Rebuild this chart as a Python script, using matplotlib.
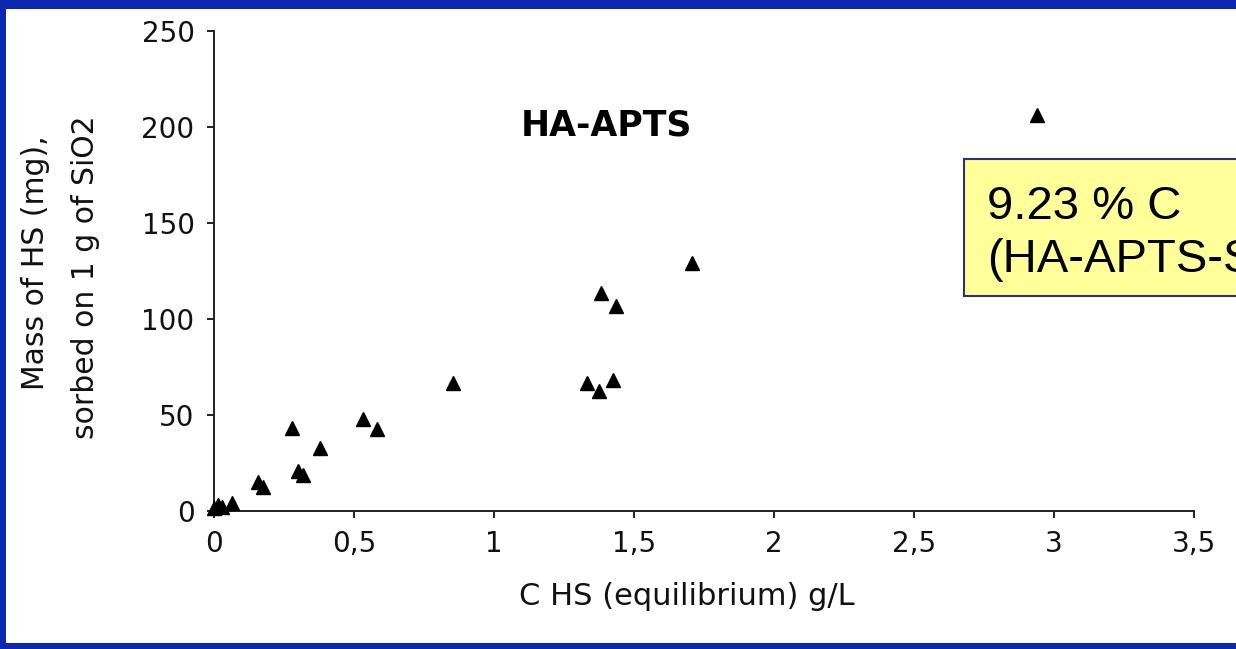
import matplotlib
matplotlib.use("Agg")
import matplotlib.pyplot as plt
from matplotlib.patches import Rectangle

# Sorption data: equilibrium concentration (g/L) vs sorbed mass (mg per g SiO2)
c_eq = [0.00, 0.015, 0.03, 0.065, 0.158, 0.176, 0.277, 0.301, 0.319, 0.379,
        0.531, 0.583, 0.852, 1.333, 1.375, 1.426, 1.381, 1.435, 1.706, 2.94]
mass_sorbed = [1.5, 3.0, 2.0, 4.0, 15.3, 12.7, 43.0, 21.0, 18.7, 33.0,
               47.8, 42.7, 66.5, 66.8, 62.7, 68.2, 113.7, 106.8, 129.3, 206.0]

x_ticks = [0, 0.5, 1, 1.5, 2, 2.5, 3, 3.5]
x_tick_labels = ["0", "0,5", "1", "1,5", "2", "2,5", "3", "3,5"]
y_ticks = [0, 50, 100, 150, 200, 250]
y_tick_labels = ["0", "50", "100", "150", "200", "250"]

W, H = 1236, 649
fig = plt.figure(figsize=(W / 100, H / 100), dpi=100)
fig.patch.set_facecolor("#0a28b0")

# white slide area inside the blue frame
fig.add_artist(Rectangle((6 / W, 6 / H), 1 - 6 / W, 1 - 15 / H,
                         transform=fig.transFigure, facecolor="white",
                         edgecolor="none", zorder=0))

ax = fig.add_axes([214 / W, 1 - 511 / H, (1194 - 214) / W, (511 - 31) / H])
ax.set_facecolor("white")
ax.patch.set_alpha(0)

ax.plot(c_eq, mass_sorbed, linestyle="none", marker="^", markersize=9.5,
        color="black", clip_on=False, zorder=3)

ax.set_xlim(0, 3.5)
ax.set_ylim(0, 250)
ax.set_xticks(x_ticks)
ax.set_xticklabels(x_tick_labels)
ax.set_yticks(y_ticks)
ax.set_yticklabels(y_tick_labels)

for side in ("top", "right"):
    ax.spines[side].set_visible(False)
for side in ("left", "bottom"):
    ax.spines[side].set_linewidth(1.4)
    ax.spines[side].set_color("#222222")

ax.tick_params(axis="both", direction="out", length=5, width=1.4,
               color="#222222", labelsize=20, pad=9, labelcolor="#111111")
for lab in ax.get_xticklabels() + ax.get_yticklabels():
    lab.set_family("DejaVu Sans")

ax.text(1.40, 195.8, "HA-APTS", fontsize=25, fontweight="bold",
        family="DejaVu Sans", ha="center", va="baseline", color="black")

fig.text(686.7 / W, 1 - 605 / H, "C HS (equilibrium) g/L", fontsize=22,
         family="DejaVu Sans", ha="center", va="baseline", color="#111111")
fig.text(36 / W, 1 - 263 / H, "Mass of HS (mg),", fontsize=21.5,
         family="DejaVu Sans", rotation=90, ha="center", va="center",
         color="#111111")
fig.text(86 / W, 1 - 277 / H, "sorbed on 1 g of SiO2", fontsize=21.5,
         family="DejaVu Sans", rotation=90, ha="center", va="center",
         color="#111111")

# yellow annotation box, running off the right edge of the slide
fig.add_artist(Rectangle((964 / W, 1 - 296 / H), (W - 964) / W + 0.05,
                         (296 - 159) / H, transform=fig.transFigure,
                         facecolor="#ffff99", edgecolor="#30307a",
                         linewidth=1.5, zorder=4))
fig.text(987 / W, 1 - 219 / H, "9.23 % C", fontsize=34,
         family="Liberation Sans", ha="left", va="baseline", color="black",
         zorder=5)
fig.text(987 / W, 1 - 272 / H, "(HA-APTS-SiO2)", fontsize=34,
         family="Liberation Sans", ha="left", va="baseline", color="black",
         zorder=5)

fig.savefig("out.png", dpi=100, facecolor=fig.get_facecolor())
